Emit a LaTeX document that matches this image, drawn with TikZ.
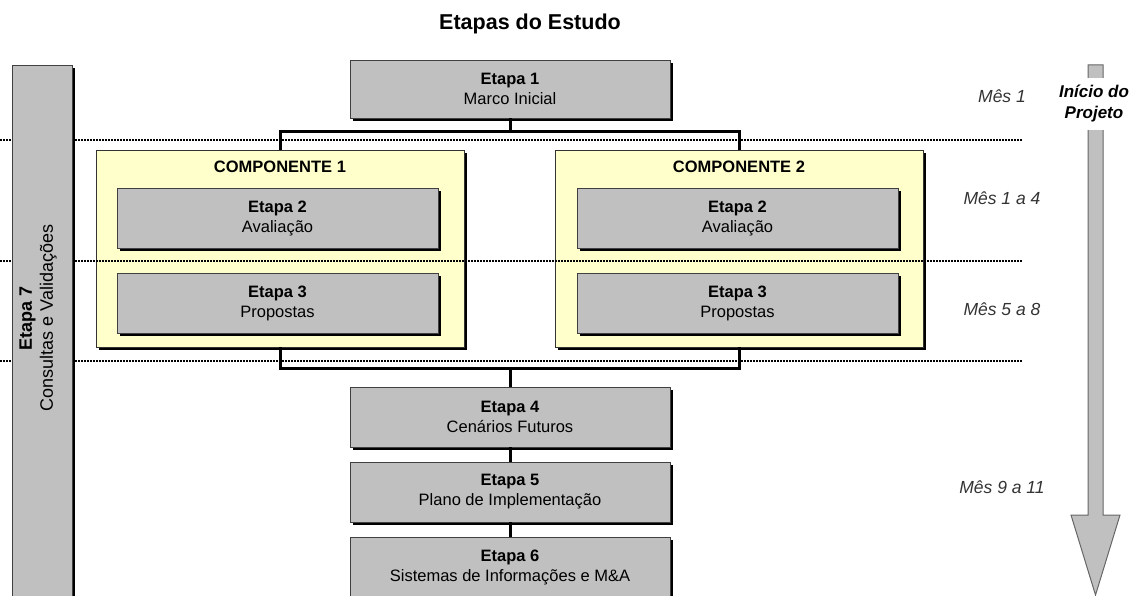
\documentclass[tikz,border=0pt]{standalone}
\usepackage{fontspec}
\setmainfont{Liberation Sans}
\usepackage{xcolor}
\usepackage{tikz}
\usetikzlibrary{shadows}

\definecolor{boxgray}{HTML}{C0C0C0}
\definecolor{compyellow}{HTML}{FFFFCC}

\begin{document}
\begin{tikzpicture}[
        x=1pt, y=-1pt,
        shadowed/.style={drop shadow={shadow xshift=3pt, shadow yshift=-3pt, opacity=1, fill=black}},
        etapa/.style={draw=black!75, fill=boxgray, shadowed, align=center, minimum width=320pt, minimum height=60pt, inner sep=0pt, font=\fontsize{16.5}{20}\selectfont},
        componente/.style={draw=black!80, fill=compyellow, shadowed, minimum width=368pt, minimum height=197pt, inner sep=0pt},
        comptitle/.style={font=\fontsize{16.5}{20}\selectfont\bfseries},
        mes/.style={font=\fontsize{17.5}{21}\selectfont\itshape, text=black!80},
        conn/.style={line width=3pt},
        sep/.style={line width=1.5pt, dash pattern=on 1.5pt off 1.5pt}
    ]
    \clip (0,0) rectangle (1133,596);

    % Title
    \node[font=\fontsize{21.5}{26}\selectfont\bfseries] (title) at (530,24) {Etapas do Estudo};

    % Components (yellow frames)
    \node[componente] (c1) at (280,248.5) {};
    \node[componente] (c2) at (739,248.5) {};
    \node[comptitle] (c1t) at (280,167) {COMPONENTE 1};
    \node[comptitle] (c2t) at (739,167) {COMPONENTE 2};

    % Dotted separators between months
    \foreach \y in {140,261,361}
        \draw[sep] (0,\y) -- (1023,\y);

    % Stages
    \node[etapa, minimum height=58pt] (e1) at (510,89) {\textbf{Etapa 1}\\Marco Inicial};
    \node[etapa, minimum width=321pt] (c1e2) at (277.5,218) {\textbf{Etapa 2}\\Avaliação};
    \node[etapa, minimum width=321pt] (c1e3) at (277.5,303) {\textbf{Etapa 3}\\Propostas};
    \node[etapa, minimum width=321pt] (c2e2) at (737.5,218) {\textbf{Etapa 2}\\Avaliação};
    \node[etapa, minimum width=321pt] (c2e3) at (737.5,303) {\textbf{Etapa 3}\\Propostas};
    \node[etapa] (e4) at (510,417) {\textbf{Etapa 4}\\Cenários Futuros};
    \node[etapa] (e5) at (510,492) {\textbf{Etapa 5}\\Plano de Implementação};
    \node[etapa] (e6) at (510,567) {\textbf{Etapa 6}\\Sistemas de Informações e M\&A};

    % Stage 7 runs along the whole study
    \node[etapa, minimum width=60pt, minimum height=560pt] (e7) at (42,345) {};
    \node[rotate=90, align=center, font=\fontsize{18}{21}\selectfont] (e7t) at (38,318) {\textbf{Etapa 7}\\Consultas e Validações};

    % Connectors
    \coordinate (top) at (510,132);
    \coordinate (bot) at (510,368);
    \draw[conn] (e1) -- (top);
    \draw[conn] (c1.north) |- (top) -| (c2.north);
    \draw[conn] (c1.south) |- (bot) -| (c2.south);
    \draw[conn] (bot) -- (e4);
    \draw[conn] (e4) -- (e5);
    \draw[conn] (e5) -- (e6);

    % Months
    \node[mes] (m1) at (1002,96) {Mês 1};
    \node[mes] (m2) at (1002,198) {Mês 1 a 4};
    \node[mes] (m3) at (1002,309) {Mês 5 a 8};
    \node[mes] (m4) at (1002,487) {Mês 9 a 11};

    % Time arrow
    \draw[draw=black!60, fill=boxgray, line width=1pt]
        (1088,65) -- (1103,65) -- (1103,515) -- (1120,515) -- (1095.5,595)
        -- (1071,515) -- (1088,515) -- cycle;
    \node[fill=white, align=center, inner sep=1pt, minimum height=52pt,
        font=\fontsize{17}{21}\selectfont\bfseries\itshape] (inicio) at (1094,104) {Início do\\Projeto};
\end{tikzpicture}
\end{document}
